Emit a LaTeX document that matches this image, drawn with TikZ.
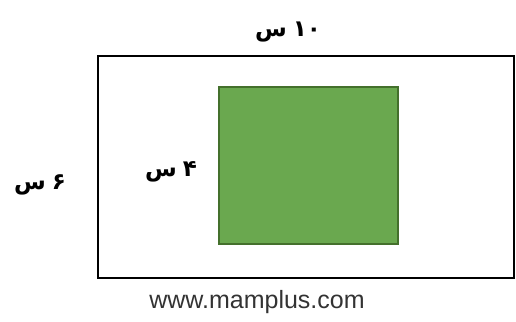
\documentclass[tikz,border=0pt]{standalone}
\usepackage{fontspec}
\setmainfont{Liberation Sans}
\newfontfamily\arabicfont[Script=Arabic]{DejaVu Sans}
\TeXXeTstate=1
\definecolor{sqgreen}{HTML}{6AA84F}
\definecolor{sqborder}{HTML}{44702C}
\definecolor{urlgray}{HTML}{333333}
\begin{document}
\begin{tikzpicture}[x=1pt,y=-1pt,
  lbl/.style={font=\arabicfont\bfseries\fontsize{23}{26}\selectfont, inner sep=0pt}]
\useasboundingbox (0,0) rectangle (516,321);
\node[draw=black, line width=1.8pt, minimum width=416pt, minimum height=222pt, inner sep=0pt] (outer) at (306,167) {};
\node[draw=sqborder, fill=sqgreen, line width=1.2pt, minimum width=179pt, minimum height=157pt, inner sep=0pt] (sq) at (308.5,165.5) {};
\node[lbl] (top) at (288,32) {\beginR\beginL ۱۰\endL\kern-2pt{} س\endR};
\node[lbl] (left) at (40,185) {\beginR\beginL ۶\endL\kern-2pt{} س\endR};
\node[lbl] (inner) at (171,172) {\beginR\beginL ۴\endL\kern-2pt{} س\endR};
\node[font=\fontsize{25}{28}\selectfont, text=urlgray, inner sep=0pt] (url) at (257,302) {www.mamplus.com};
\end{tikzpicture}
\end{document}
